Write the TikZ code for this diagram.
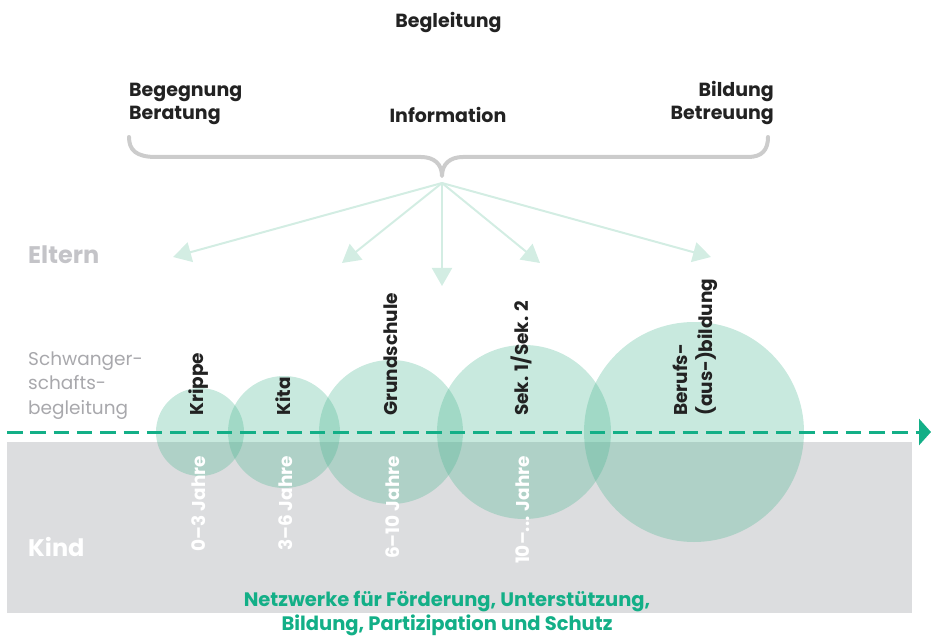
\documentclass[tikz,border=0pt]{standalone}
\usepackage{fontspec}
\setmainfont{Poppins}
\usetikzlibrary{arrows.meta}
\definecolor{bracegray}{HTML}{CCCCCC}
\definecolor{arrowgreen}{HTML}{D3EDE3}
\definecolor{elterngray}{HTML}{C4C4C8}
\definecolor{schwgray}{HTML}{A8A8AC}
\definecolor{band}{HTML}{DCDDDF}
\definecolor{tealc}{HTML}{13AF87}
\definecolor{circc}{HTML}{48B691}
\definecolor{ink}{HTML}{222222}
\tikzset{
  bubble/.style={circle, fill=circc, fill opacity=0.3, inner sep=0pt, draw=none},
  fan/.style={draw=arrowgreen, line width=2pt, -{Triangle[length=18pt,width=20pt]}},
  head/.style={font=\bfseries\fontsize{19}{22}\selectfont, text=ink, inner sep=0pt},
  stage/.style={font=\bfseries\fontsize{18.5}{22}\selectfont, text=ink, rotate=90, anchor=base west, inner sep=0pt},
  age/.style={font=\bfseries\fontsize{18.5}{22}\selectfont, rotate=90, anchor=base east, inner sep=0pt, text=white},
  schw/.style={font=\fontsize{18.5}{22}\selectfont, text=schwgray, anchor=base west, inner sep=0pt},
  netz/.style={font=\bfseries\fontsize{19.5}{22}\selectfont, text=tealc, anchor=base, inner sep=0pt},
  side/.style={font=\bfseries\fontsize{24}{28}\selectfont, anchor=base west, inner sep=0pt},
}
\begin{document}
\begin{tikzpicture}[x=1pt,y=-1pt]
\useasboundingbox (0,0) rectangle (931,636);
% grey band
\fill[band] (7,441.5) rectangle (912,613);
% bubbles
\node[bubble, minimum size=88pt] (krippe) at (200,432) {};
\node[bubble, minimum size=112pt] (kita) at (284,432) {};
\node[bubble, minimum size=144pt] (grund) at (391,432) {};
\node[bubble, minimum size=174pt] (sek) at (524,432) {};
\node[bubble, minimum size=220pt] (beruf) at (694,432) {};
% dashed axis
\coordinate (axl) at (7,432);
\coordinate (axr) at (931,432);
\draw[tealc, line width=3pt, dash pattern=on 15.5pt off 7.8pt, -{Triangle[length=12pt,width=26pt]}] (axl) -- (axr);
% brace
\coordinate (bl) at (129,137);
\coordinate (br) at (768,137);
\coordinate (bt) at (442,176);
\draw[bracegray, line width=4pt, line cap=round, line join=round]
  (bl) .. controls (129,150) and (136,157) .. (156,157) -- (421,157)
  .. controls (434,157) and (442,164) .. (bt)
  .. controls (442,164) and (450,157) .. (463,157) -- (748,157)
  .. controls (762,157) and (768,150) .. (br);
% fan arrows
\coordinate (hub) at (442,183);
\coordinate (t1) at (173,257);
\coordinate (t2) at (342,263);
\coordinate (t3) at (442,286);
\coordinate (t4) at (540,263);
\coordinate (t5) at (711,257);
\foreach \t in {t1,t2,t3,t4,t5} \draw[fan] (hub) -- (\t);
% headings
\node[head, anchor=base] (begl) at (448.5,28) {Begleitung};
\node[head, anchor=base west] (begeg) at (129,97) {Begegnung};
\node[head, anchor=base west] (berat) at (129,120) {Beratung};
\node[head, anchor=base] (info) at (448,123) {Information};
\node[head, anchor=base east] (bild) at (774,97) {Bildung};
\node[head, anchor=base east] (betr) at (774,120) {Betreuung};
% side labels
\node[side, text=elterngray] (eltern) at (28,263) {Eltern};
\node[schw] (schw1) at (28,365) {Schwanger-};
\node[schw] (schw2) at (28,389.5) {schafts-};
\node[schw] (schw3) at (28,414) {begleitung};
\node[side, text=white] (kind) at (28,556) {Kind};
% stage labels
\node[stage] (lkrippe) at (203,416) {Krippe};
\node[stage] (lkita) at (290,416) {Kita};
\node[stage] (lgrund) at (397,416) {Grundschule};
\node[stage] (lsek) at (528,416) {Sek. 1/Sek. 2};
\node[stage] (lberuf1) at (687,416) {Berufs-};
\node[stage] (lberuf2) at (712,416) {(aus-)bildung};
% ages
\node[age] (a1) at (205,456) {0–3 Jahre};
\node[age] (a2) at (292,456) {3–6 Jahre};
\node[age] (a3) at (399,456) {6–10 Jahre};
\node[age] (a4) at (529,456) {10–... Jahre};
% bottom text
\node[netz] (netz1) at (447,606) {Netzwerke für Förderung, Unterstützung,};
\node[netz] (netz2) at (447,630) {Bildung, Partizipation und Schutz};
\end{tikzpicture}
\end{document}
